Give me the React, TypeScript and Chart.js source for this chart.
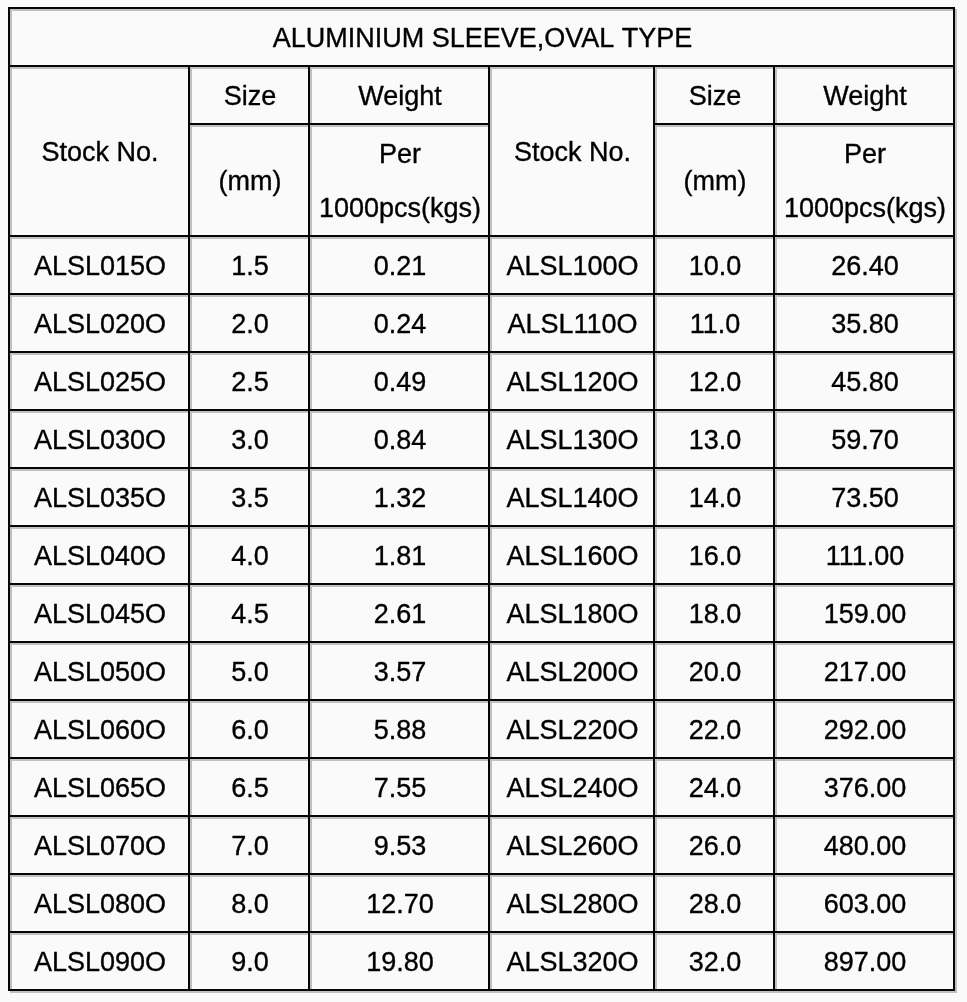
import React, { useEffect, useRef } from "react";
import { Chart, registerables } from "chart.js";

Chart.register(...registerables);

const title = "ALUMINIUM SLEEVE,OVAL TYPE";
const headerStock = "Stock No.";
const headerSizeTop = "Size";
const headerSizeBottom = "(mm)";
const headerWeightTop = "Weight";
const headerWeightBottom = ["Per", "1000pcs(kgs)"];

const stockLeft = ["ALSL015O", "ALSL020O", "ALSL025O", "ALSL030O", "ALSL035O", "ALSL040O", "ALSL045O", "ALSL050O", "ALSL060O", "ALSL065O", "ALSL070O", "ALSL080O", "ALSL090O"];
const sizeLeft = [1.5, 2.0, 2.5, 3.0, 3.5, 4.0, 4.5, 5.0, 6.0, 6.5, 7.0, 8.0, 9.0];
const weightLeft = [0.21, 0.24, 0.49, 0.84, 1.32, 1.81, 2.61, 3.57, 5.88, 7.55, 9.53, 12.7, 19.8];

const stockRight = ["ALSL100O", "ALSL110O", "ALSL120O", "ALSL130O", "ALSL140O", "ALSL160O", "ALSL180O", "ALSL200O", "ALSL220O", "ALSL240O", "ALSL260O", "ALSL280O", "ALSL320O"];
const sizeRight = [10.0, 11.0, 12.0, 13.0, 14.0, 16.0, 18.0, 20.0, 22.0, 24.0, 26.0, 28.0, 32.0];
const weightRight = [26.4, 35.8, 45.8, 59.7, 73.5, 111.0, 159.0, 217.0, 292.0, 376.0, 480.0, 603.0, 897.0];

// Layout (in page units, mapped through the chart's linear scales)
const COL_X = [8, 188, 308, 488, 653, 773, 953];
const TITLE_TOP = 7;
const HEAD_TOP = 65;
const HEAD_MID = 123;
const HEAD_BOTTOM = 235;
const ROW_H = 58;
const FONT = '27px "Liberation Sans", Arial, sans-serif';
const BLACK = "#050505";
const GRAY = "#c0c0c0";
const BG = "#fafafa";
const TEXT = "#000000";

type Cell = { x0: number; x1: number; y0: number; y1: number; lines: string[] };

function buildCells(): Cell[] {
  const cells: Cell[] = [];
  cells.push({ x0: COL_X[0], x1: COL_X[6], y0: TITLE_TOP, y1: HEAD_TOP, lines: [title] });
  const sides = [
    { c: 0, stock: stockLeft, size: sizeLeft, weight: weightLeft },
    { c: 3, stock: stockRight, size: sizeRight, weight: weightRight },
  ];
  for (const s of sides) {
    const c = s.c;
    cells.push({ x0: COL_X[c], x1: COL_X[c + 1], y0: HEAD_TOP, y1: HEAD_BOTTOM, lines: [headerStock] });
    cells.push({ x0: COL_X[c + 1], x1: COL_X[c + 2], y0: HEAD_TOP, y1: HEAD_MID, lines: [headerSizeTop] });
    cells.push({ x0: COL_X[c + 1], x1: COL_X[c + 2], y0: HEAD_MID, y1: HEAD_BOTTOM, lines: [headerSizeBottom] });
    cells.push({ x0: COL_X[c + 2], x1: COL_X[c + 3], y0: HEAD_TOP, y1: HEAD_MID, lines: [headerWeightTop] });
    cells.push({ x0: COL_X[c + 2], x1: COL_X[c + 3], y0: HEAD_MID, y1: HEAD_BOTTOM, lines: headerWeightBottom });
    s.stock.forEach((name, i) => {
      const y0 = HEAD_BOTTOM + i * ROW_H;
      const y1 = y0 + ROW_H;
      cells.push({ x0: COL_X[c], x1: COL_X[c + 1], y0, y1, lines: [name] });
      cells.push({ x0: COL_X[c + 1], x1: COL_X[c + 2], y0, y1, lines: [s.size[i].toFixed(1)] });
      cells.push({ x0: COL_X[c + 2], x1: COL_X[c + 3], y0, y1, lines: [s.weight[i].toFixed(2)] });
    });
  }
  return cells;
}

const tablePlugin = {
  id: "tablePlugin",
  beforeDraw(chart: any) {
    const ctx = chart.ctx;
    ctx.save();
    ctx.fillStyle = BG;
    ctx.fillRect(0, 0, chart.width, chart.height);
    ctx.restore();
  },
  afterDraw(chart: any) {
    const ctx = chart.ctx;
    const xs = chart.scales.x;
    const ys = chart.scales.y;
    const X = (v: number) => Math.round(xs.getPixelForValue(v));
    const Y = (v: number) => Math.round(ys.getPixelForValue(v));
    const rect = (x0: number, y0: number, x1: number, y1: number, color: string) => {
      ctx.fillStyle = color;
      ctx.fillRect(X(x0), Y(y0), X(x1) - X(x0), Y(y1) - Y(y0));
    };
    const cells = buildCells();
    const bottom = HEAD_BOTTOM + stockLeft.length * ROW_H;
    ctx.save();
    for (const c of cells) {
      rect(c.x0, c.y0, c.x1 + 2, c.y0 + 2, BLACK);
      rect(c.x0, c.y0, c.x0 + 2, c.y1 + 2, BLACK);
      rect(c.x0 + 2, c.y0 + 2, c.x1, c.y0 + 4, GRAY);
      rect(c.x0 + 2, c.y0 + 2, c.x0 + 4, c.y1, GRAY);
    }
    // outer right / bottom edges
    rect(COL_X[6], TITLE_TOP, COL_X[6] + 2, bottom + 2, BLACK);
    rect(COL_X[6] + 2, TITLE_TOP + 2, COL_X[6] + 4, bottom + 4, GRAY);
    rect(COL_X[0], bottom, COL_X[6] + 2, bottom + 2, BLACK);
    rect(COL_X[0] + 2, bottom + 2, COL_X[6] + 4, bottom + 4, GRAY);

    ctx.font = FONT;
    ctx.fillStyle = TEXT;
    ctx.strokeStyle = TEXT;
    ctx.lineWidth = 0.35;
    ctx.lineJoin = "round";
    ctx.textAlign = "center";
    ctx.textBaseline = "alphabetic";
    const lineGap = 54;
    for (const c of cells) {
      const cx = (X(c.x0 + 4) + X(c.x1)) / 2;
      const cy = (Y(c.y0 + 4) + Y(c.y1)) / 2;
      const n = c.lines.length;
      c.lines.forEach((t, i) => {
        const off = (i - (n - 1) / 2) * lineGap;
        ctx.fillText(t, cx, cy + off + 8.8);
        ctx.strokeText(t, cx, cy + off + 8.8);
      });
    }
    ctx.restore();
  },
};

export default function App() {
  const ref = useRef<HTMLCanvasElement | null>(null);
  useEffect(() => {
    if (!ref.current) return;
    const chart = new Chart(ref.current, {
      type: "scatter",
      data: { datasets: [{ data: [], showLine: false }] },
      options: {
        animation: false,
        responsive: false,
        maintainAspectRatio: false,
        events: [],
        layout: { padding: 0 },
        plugins: { legend: { display: false }, tooltip: { enabled: false }, title: { display: false } },
        scales: {
          x: { type: "linear", min: 0, max: 967, display: false },
          y: { type: "linear", min: 0, max: 1002, reverse: true, display: false },
        },
      },
      plugins: [tablePlugin],
    } as any);
    return () => chart.destroy();
  }, []);
  return (
    <div style={{ position: "fixed", left: 0, top: 0, width: 967, height: 1002, background: BG }}>
      <canvas ref={ref} width={967} height={1002} style={{ display: "block", width: 967, height: 1002 }} />
    </div>
  );
}
